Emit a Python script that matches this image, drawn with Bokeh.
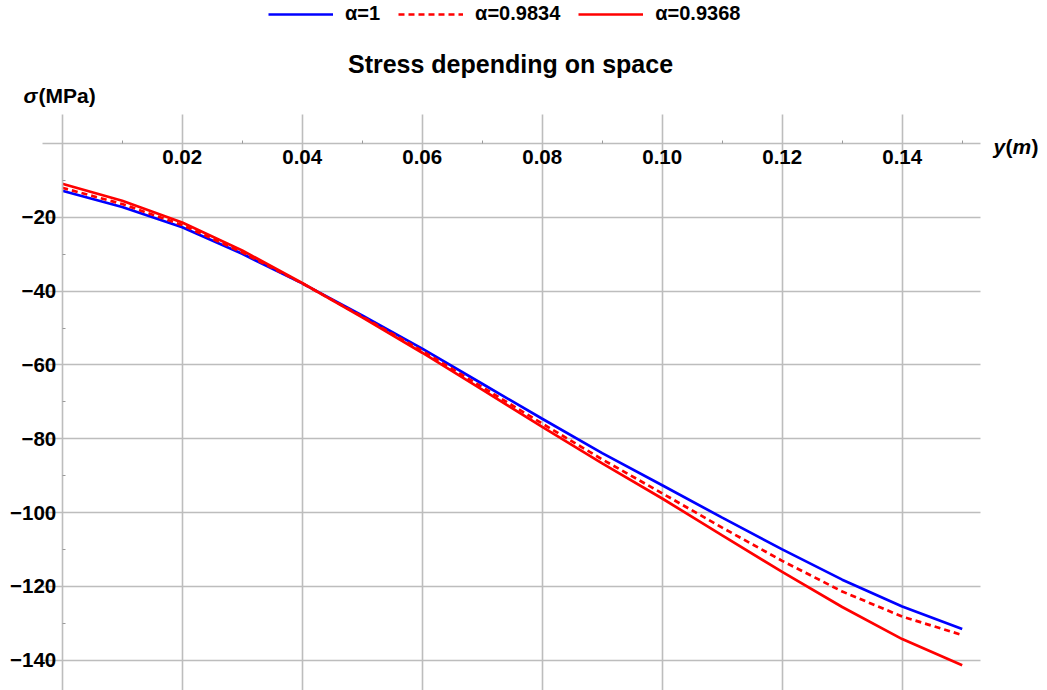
from bokeh.plotting import figure
from bokeh.models import (Range1d, FixedTicker, Label, Legend, LegendItem,
                          CustomJSTickFormatter)
from bokeh.embed import file_html
from bokeh.resources import INLINE

# ---- data ----
y_pos = [0.0, 0.01, 0.02, 0.03, 0.04, 0.05, 0.06, 0.07, 0.08, 0.09,
         0.10, 0.11, 0.12, 0.13, 0.14, 0.15]
stress_a1 = [-12.8, -17.2, -22.7, -29.9, -37.9, -46.6, -55.6, -65.1, -74.6, -83.9,
             -92.6, -101.4, -110.0, -118.2, -125.5, -131.6]
stress_a09834 = [-12.0, -16.4, -22.1, -29.5, -37.9, -46.9, -56.2, -66.0, -75.9, -85.6,
                 -94.8, -104.1, -113.1, -121.4, -128.2, -133.2]
stress_a09368 = [-10.9, -15.5, -21.4, -29.0, -37.8, -47.1, -56.7, -66.7, -76.8, -86.7,
                 -96.2, -106.2, -116.1, -125.6, -134.3, -141.4]

series_labels = ["α=1", "α=0.9834", "α=0.9368"]
x_ticks = [0.02, 0.04, 0.06, 0.08, 0.10, 0.12, 0.14]
x_minor = [0.01, 0.03, 0.05, 0.07, 0.09, 0.11, 0.13, 0.15]
y_ticks = [-20, -40, -60, -80, -100, -120, -140]
y_minor = [-10, -30, -50, -70, -90, -110, -130]

title_text = "Stress depending on space"

FONT = "Liberation Sans"
GRID = "#bdbdbd"

W, H = 1047, 690
# plotting area (data limits of the drawn axes / grid)
X_LO, X_HI = -0.00328, 0.15305
Y_LO, Y_HI = -148.2, 7.86

p = figure(width=W, height=H, output_backend="svg", toolbar_location=None,
           title=None,
           x_range=Range1d(-0.010283, 0.164217), y_range=Range1d(-148.238, 38.753),
           min_border_left=0, min_border_right=0,
           min_border_top=0, min_border_bottom=0)
p.outline_line_alpha = 0
p.background_fill_color = "white"
p.border_fill_color = "white"

r1 = p.line(y_pos, stress_a1, line_color="#0000ff", line_width=2.7)
r2 = p.line(y_pos, stress_a09834, line_color="#ff0000", line_width=2.7,
            line_dash="6 4")
r3 = p.line(y_pos, stress_a09368, line_color="#ff0000", line_width=2.7)

# axes through the origin
xa = p.xaxis[0]
ya = p.yaxis[0]
xa.fixed_location = 0
ya.fixed_location = 0
xa.bounds = (X_LO, X_HI)
ya.bounds = (Y_LO, Y_HI)
xa.ticker = FixedTicker(ticks=x_ticks, minor_ticks=x_minor)
ya.ticker = FixedTicker(ticks=y_ticks, minor_ticks=y_minor)
ya.formatter = CustomJSTickFormatter(code="return tick < 0 ? '\\u2212' + Math.abs(tick) : String(tick);")
xa.formatter = CustomJSTickFormatter(code="return tick.toFixed(2);")
for ax in (xa, ya):
    ax.axis_line_color = GRID
    ax.axis_line_width = 1.6
    ax.major_tick_in = 0
    ax.major_tick_out = 0
    ax.minor_tick_line_color = "#9a9a9a"
    ax.minor_tick_in = 3
    ax.minor_tick_out = 0
    ax.major_label_text_font = FONT
    ax.major_label_text_font_style = "bold"
    ax.major_label_text_font_size = "20.5px"
    ax.major_label_text_color = "black"
xa.major_label_standoff = 7
ya.major_label_standoff = 6

p.xgrid.ticker = FixedTicker(ticks=x_ticks)
p.ygrid.ticker = FixedTicker(ticks=y_ticks)
p.xgrid.cross_bounds = (Y_LO, Y_HI)
p.ygrid.cross_bounds = (X_LO, X_HI)
for g in (p.xgrid, p.ygrid):
    g.grid_line_color = GRID
    g.grid_line_width = 1.6

# legend above the plot area (location = bottom-left corner, frame pixels)
legend = Legend(items=[LegendItem(label=series_labels[0], renderers=[r1]),
                       LegendItem(label=series_labels[1], renderers=[r2]),
                       LegendItem(label=series_labels[2], renderers=[r3])],
                orientation="horizontal", location=(268, H - 25),
                padding=0, margin=0, spacing=18, label_standoff=12,
                glyph_width=65, glyph_height=20, label_height=20,
                border_line_alpha=0, background_fill_alpha=0,
                label_text_font=FONT, label_text_font_style="bold",
                label_text_font_size="20px", label_text_color="black")
p.add_layout(legend)

def lab(text, x_page, y_page, size, style="bold", align="left"):
    p.add_layout(Label(x=x_page, y=H - y_page,
                       x_units="screen", y_units="screen", text=text,
                       text_font=FONT, text_font_style=style,
                       text_font_size=size, text_align=align,
                       text_baseline="middle", text_color="black"))

lab(title_text, 510, 63, "25px", align="center")
lab("σ", 23, 95, "21px", style="bold italic")
lab("(MPa)", 38, 95, "21px")
lab("y", 993, 146, "21px", style="bold italic")
lab("(", 1005, 146, "21px")
lab("m", 1012, 146, "21px", style="bold italic")
lab(")", 1031, 146, "21px")

open("out.html", "w").write(file_html(p, INLINE))
